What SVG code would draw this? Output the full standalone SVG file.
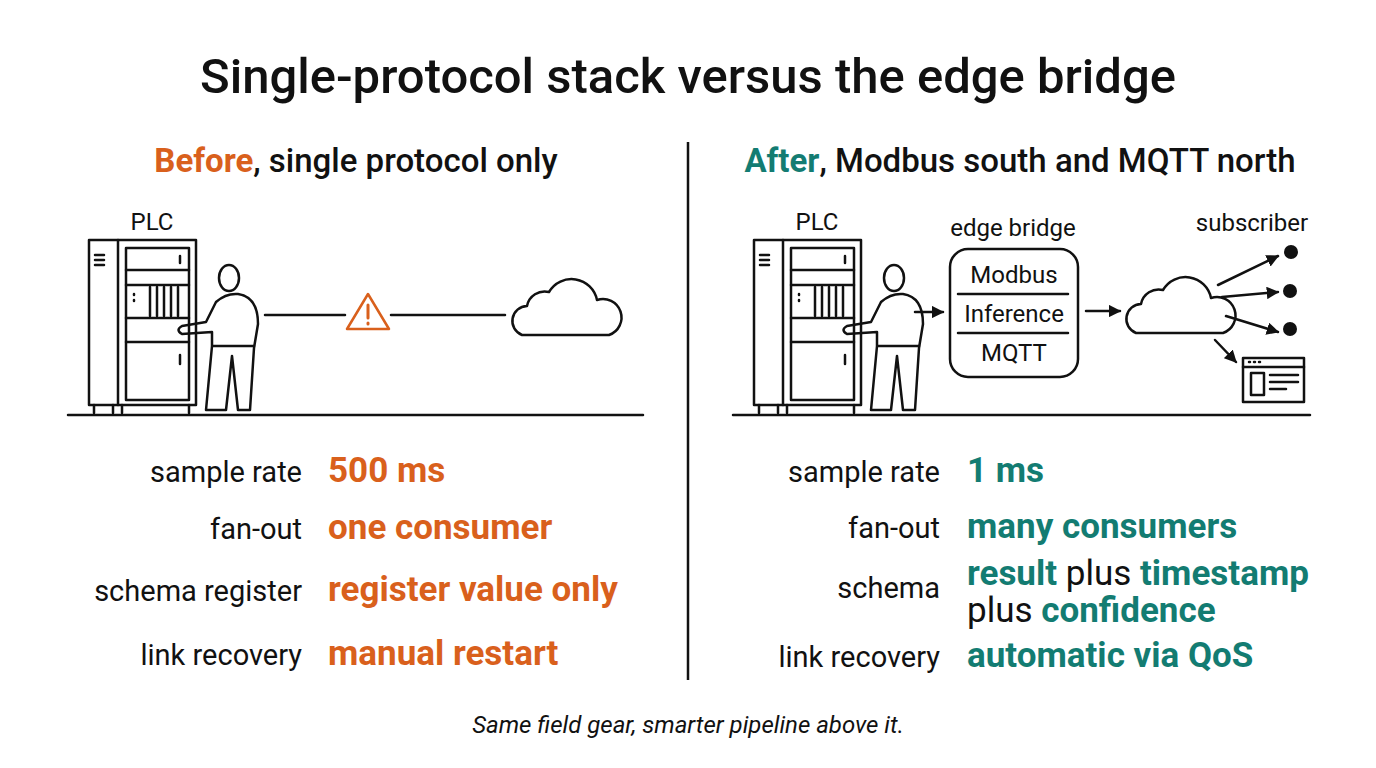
<svg xmlns="http://www.w3.org/2000/svg" width="1376" height="768" viewBox="0 0 1376 768">
<style>
text{font-family:Roboto,"Liberation Sans",sans-serif;fill:#111}
.s{fill:none;stroke:#111;stroke-width:2.5;stroke-linejoin:round;stroke-linecap:round}
.lab{font-size:29px;text-anchor:end}
.v{font-size:35px;font-weight:700}
.o{fill:#d9601c}.t{fill:#137c72}
.sm{font-size:24px;text-anchor:middle}
</style>
<defs>
<marker id="ar" viewBox="0 0 10 10" refX="9" refY="5" markerWidth="5" markerHeight="5" orient="auto"><path d="M0,0L10,5L0,10z" fill="#111"/></marker>
<g id="cab">
<rect class="s" x="89" y="240" width="107" height="165"/>
<line class="s" x1="118" y1="240" x2="118" y2="405"/>
<rect class="s" x="126" y="248" width="63" height="152"/>
<line class="s" x1="126" y1="270" x2="189" y2="270"/>
<line class="s" x1="126" y1="285" x2="189" y2="285"/>
<line class="s" x1="126" y1="318" x2="189" y2="318"/>
<line class="s" x1="126" y1="342" x2="189" y2="342"/>
<line class="s" x1="180" y1="256" x2="180" y2="263"/>
<line class="s" x1="180" y1="355" x2="180" y2="364"/>
<path class="s" d="M150 287V316M157 287V316M164 287V316M171 287V316M178 287V316"/>
<path class="s" d="M134 294v1M134 300v1"/>
<path class="s" d="M95 255h9M95 260h9M95 265h9"/>
<path class="s" d="M94 405v8M113 405v8M122 405v8M189 405v8"/>
<ellipse class="s" cx="229" cy="278" rx="10" ry="13"/>
<path class="s" d="M206 410L212 346L212 332L182 334q-7-4 0-8L206 322L216 302q10-9 22-8q20 3 20 30l-4 24L250 410H238L232 356L226 410Z"/>
<path class="s" d="M213 346h41"/>
</g>
<path id="cloud" class="s" d="M-40 25 a15 15 0 0 1 5-29 a18 18 0 0 1 22-14 a26 26 0 0 1 48 8 a18 18 0 0 1 12 35 z"/>
</defs>
<text x="688" y="93" font-size="49" font-weight="500" text-anchor="middle">Single-protocol stack versus the edge bridge</text>
<line x1="688" y1="142" x2="688" y2="680" stroke="#111" stroke-width="2.5"/>
<text x="356" y="172" font-size="33" font-weight="500" text-anchor="middle"><tspan class="o" font-weight="700">Before</tspan>, single protocol only</text>
<text x="1020" y="172" font-size="33" font-weight="500" text-anchor="middle"><tspan class="t" font-weight="700">After</tspan>, Modbus south and MQTT north</text>

<g id="before-plc"><text x="152" y="230" class="sm">PLC</text><use href="#cab"/></g>
<line class="s" x1="68" y1="415" x2="643" y2="415"/>
<g id="warning"><path d="M368 294L389 329H347Z" fill="none" stroke="#d9601c" stroke-width="2.5" stroke-linejoin="round"/><path d="M368 305v13M368 323v1" stroke="#d9601c" stroke-width="3" stroke-linecap="round"/></g>
<g id="cloud-before"><use href="#cloud" x="562" y="310"/></g>

<g id="after-plc"><text x="817" y="230" class="sm">PLC</text><use href="#cab" x="665"/></g>
<line class="s" x1="733" y1="415" x2="1310" y2="415"/>
<g id="bridge">
<text x="1013" y="236" class="sm">edge bridge</text>
<rect class="s" x="950" y="249" width="128" height="128" rx="18"/>
<text x="1014" y="283" class="sm">Modbus</text>
<line class="s" x1="958" y1="294" x2="1068" y2="294"/>
<text x="1014" y="322" class="sm">Inference</text>
<line class="s" x1="958" y1="333" x2="1068" y2="333"/>
<text x="1014" y="361" class="sm">MQTT</text>
</g>
<g id="cloud-after"><use href="#cloud" x="1176" y="308"/></g>
<g id="subscribers">
<text x="1252" y="231" class="sm">subscriber</text>
<circle cx="1291" cy="252" r="7" fill="#111"/><circle cx="1290" cy="291" r="7" fill="#111"/><circle cx="1290" cy="329" r="7" fill="#111"/>
<rect class="s" x="1243" y="358" width="61" height="44"/>
<path class="s" d="M1243 367h61M1249 362h1M1254 362h1M1259 362h1"/>
<rect class="s" x="1251" y="373" width="13" height="22"/>
<path class="s" d="M1270 375h28M1270 382h28M1270 389h16"/>
</g>
<g id="connectors">
<line class="s" x1="265" y1="315" x2="345" y2="315"/>
<line class="s" x1="391" y1="315" x2="505" y2="315"/>
<line class="s" x1="915" y1="312" x2="943" y2="312" marker-end="url(#ar)"/>
<line class="s" x1="1086" y1="311" x2="1120" y2="311" marker-end="url(#ar)"/>
<line class="s" x1="1218" y1="285" x2="1278" y2="256" marker-end="url(#ar)"/>
<line class="s" x1="1222" y1="297" x2="1278" y2="292" marker-end="url(#ar)"/>
<line class="s" x1="1226" y1="316" x2="1278" y2="332" marker-end="url(#ar)"/>
<line class="s" x1="1215" y1="340" x2="1236" y2="362" marker-end="url(#ar)"/>
</g>

<g id="before-rows">
<text x="302" y="482" class="lab">sample rate</text><text x="328" y="482" class="v o">500 ms</text>
<text x="302" y="539" class="lab">fan-out</text><text x="328" y="539" class="v o">one consumer</text>
<text x="302" y="601" class="lab">schema register</text><text x="328" y="601" class="v o">register value only</text>
<text x="302" y="665" class="lab">link recovery</text><text x="328" y="665" class="v o">manual restart</text>
</g>
<g id="after-rows">
<text x="940" y="482" class="lab">sample rate</text><text x="967" y="482" class="v t">1 ms</text>
<text x="940" y="538" class="lab">fan-out</text><text x="967" y="538" class="v t">many consumers</text>
<text x="940" y="598" class="lab">schema</text>
<text x="967" y="585" class="v t">result <tspan fill="#111" font-weight="400">plus</tspan> timestamp</text>
<text x="967" y="622" class="v t"><tspan fill="#111" font-weight="400">plus</tspan> confidence</text>
<text x="940" y="667" class="lab">link recovery</text><text x="967" y="667" class="v t">automatic via QoS</text>
</g>
<text x="688" y="733" font-size="24" font-style="italic" text-anchor="middle">Same field gear, smarter pipeline above it.</text>
</svg>
